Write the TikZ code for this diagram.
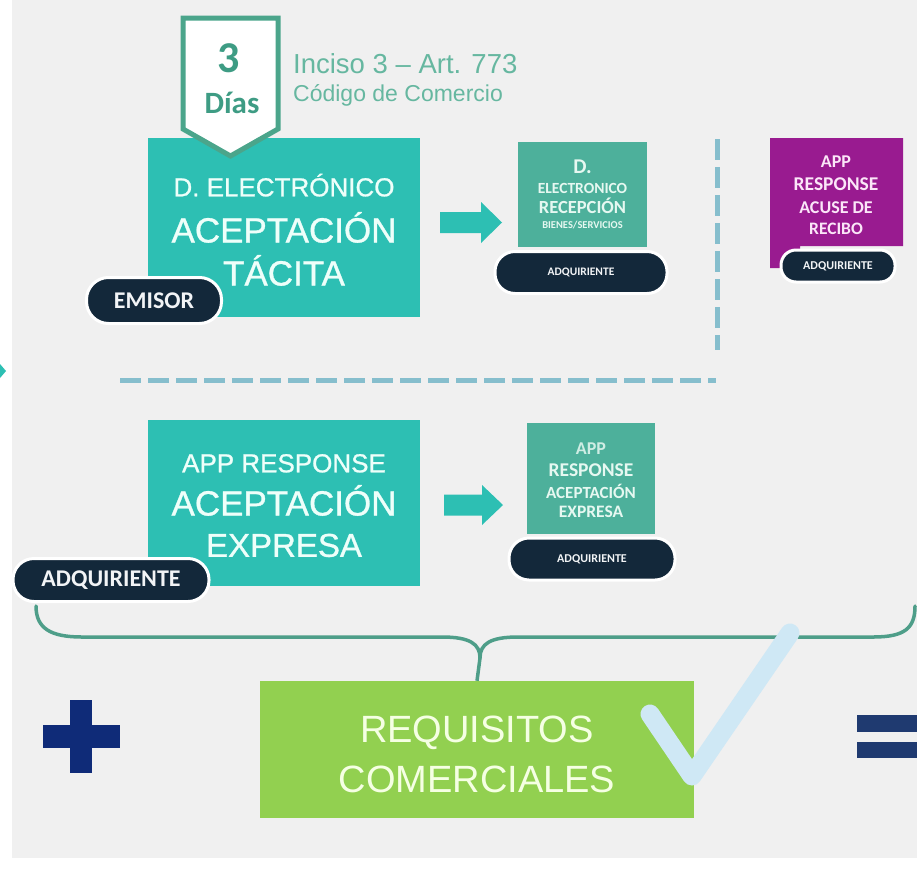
\documentclass[tikz,border=0pt]{standalone}
\usepackage{fontspec}
\setmainfont{Liberation Sans}
\newfontfamily\calfont{Carlito}
\newfontfamily\boxfont[FakeBold=0.9]{Liberation Sans}
\newcommand\fsz[1]{\fontsize{#1}{#1}\selectfont}
\definecolor{cBg}{HTML}{F0F0F0}
\definecolor{cTeal}{HTML}{2DBFB3}
\definecolor{cSmall}{HTML}{4DB09B}
\definecolor{cNavy}{HTML}{13283A}
\definecolor{cPurple}{HTML}{991B90}
\definecolor{cGreen}{HTML}{92D050}
\definecolor{cBadge}{HTML}{4BA58B}
\definecolor{cBadgeTxt}{HTML}{3E9C84}
\definecolor{cInciso}{HTML}{66B7A0}
\definecolor{cBoxTxt}{HTML}{EEFFFA}
\definecolor{cSmTxt}{HTML}{E6F8F1}
\definecolor{cPurTxt}{HTML}{FBE6F8}
\definecolor{cPillTxt}{HTML}{F2F4F6}
\definecolor{cGreenTxt}{HTML}{F5FFE3}
\definecolor{cBrace}{HTML}{4E9E89}
\definecolor{cDash}{HTML}{86BECD}
\definecolor{cCheck}{HTML}{CFE8F5}
\definecolor{cPlus}{HTML}{0F2B78}
\definecolor{cEq}{HTML}{1F3A70}
\begin{document}
\begin{tikzpicture}[x=1pt,y=-1pt,
  bigbox/.style={fill=cTeal,inner sep=0,outer sep=0},
  smallbox/.style={fill=cSmall,inner sep=0,outer sep=0},
  pill/.style={fill=cNavy,draw=white,line width=3pt,inner sep=0,text=cPillTxt},
  bigtxt/.style={anchor=base,inner sep=0,text=cBoxTxt,font=\boxfont\fsz{#1}},
  smtxt/.style={anchor=base,inner sep=0,text=cSmTxt,font=\calfont\bfseries\fsz{#1}},
  purtxt/.style={anchor=base,inner sep=0,text=cPurTxt,font=\calfont\bfseries\fsz{#1}},
  greentxt/.style={anchor=base,inner sep=0,text=cGreenTxt,font=\fsz{#1}},
  dashline/.style={draw=cDash,line width=5pt,dash pattern=on 21pt off 7pt},
  blockarrow/.style={fill=cTeal},
  bracestyle/.style={draw=cBrace,line width=3.5pt,line cap=round,line join=round},
  checkstyle/.style={draw=cCheck,line width=19pt,line cap=round,line join=round}]
\useasboundingbox (0,0) rectangle (917,870);
\fill[white] (0,0) rectangle (917,870);
\fill[cBg] (12,0) rectangle (917,858);
% left edge mark
\fill[cTeal] (0,364) -- (6,371) -- (0,378) -- cycle;

% top section box 1
\node[bigbox,minimum width=272pt,minimum height=179pt] (b1) at (284,227.5) {};
\node[bigtxt=26] (b1a) at (284,196.3) {D. ELECTRÓNICO};
\node[bigtxt=35] (b1b) at (284,242.5) {ACEPTACIÓN};
\node[bigtxt=35] (b1c) at (284,285.5) {TÁCITA};

% badge
\filldraw[fill=white,draw=cBadge,line width=5pt,line join=miter]
  (183,18) -- (278,18) -- (278,129) -- (230.5,156) -- (183,129) -- cycle;
\node[anchor=base,inner sep=0,text=cBadgeTxt,font=\calfont\bfseries\fsz{44}] (n3) at (229,72) {3};
\node[anchor=base,inner sep=0,text=cBadgeTxt,font=\calfont\bfseries\fsz{31}] (dias) at (232,113) {Días};
\node[anchor=base west,inner sep=0,text=cInciso,font=\fsz{27.5}] (inc) at (293,73) {Inciso 3 – Art. 773};
\node[anchor=base west,inner sep=0,text=cInciso,font=\fsz{23}] (cod) at (293,101) {Código de Comercio};

% EMISOR pill
\node[pill,minimum width=135pt,minimum height=46pt,rounded corners=22pt,font=\calfont\bfseries\fsz{24}] (emisor) at (154,300.5) {EMISOR};

% arrow 1
\fill[blockarrow] (440,212) -- (481,212) -- (481,202) -- (502,222.5) -- (481,243) -- (481,233) -- (440,233) -- cycle;

% box 2
\node[smallbox,minimum width=129pt,minimum height=105pt] (b2) at (582.5,194.5) {};
\node[smtxt=21] (b2a) at (582.5,173.5) {D.};
\node[smtxt=15.5] (b2b) at (582.5,193.5) {ELECTRONICO};
\node[smtxt=18.5] (b2c) at (582.5,213) {RECEPCIÓN};
\node[smtxt=10.5] (b2d) at (582.5,228) {BIENES/SERVICIOS};
\node[pill,minimum width=172pt,minimum height=42pt,rounded corners=20pt,font=\calfont\bfseries\fsz{11.5}] (p2) at (581,272.5) {ADQUIRIENTE};

% purple box
\fill[cPurple] (770,138) -- (903,138) -- (903,246) -- (800,246) -- (800,268) -- (770,268) -- cycle;
\coordinate (pur) at (836,200);
\node[purtxt=18] (pa) at (836,167) {APP};
\node[purtxt=19.5] (pb) at (836,190) {RESPONSE};
\node[purtxt=18] (pc) at (836,213) {ACUSE DE};
\node[purtxt=17.5] (pd) at (836,234.5) {RECIBO};
\node[pill,minimum width=114pt,minimum height=32pt,rounded corners=15pt,font=\calfont\bfseries\fsz{12}] (p3) at (838,266) {ADQUIRIENTE};

% dashed dividers
\coordinate (v1) at (717,139);
\coordinate (v2) at (717,350);
\coordinate (h1) at (120,380);
\coordinate (h2) at (716,380);
\draw[dashline] (v1) -- (v2);
\draw[dashline] (h1) -- (h2);

% box 4
\node[bigbox,minimum width=272pt,minimum height=166pt] (b4) at (284,503) {};
\node[bigtxt=26] (b4a) at (284,472.3) {APP RESPONSE};
\node[bigtxt=35] (b4b) at (284,515.5) {ACEPTACIÓN};
\node[bigtxt=33] (b4c) at (284,556.8) {EXPRESA};
\node[pill,minimum width=196pt,minimum height=43pt,rounded corners=21pt,font=\calfont\bfseries\fsz{24}] (p5) at (111,580) {ADQUIRIENTE};

% arrow 2
\fill[blockarrow] (444,494.5) -- (482,494.5) -- (482,485) -- (503,505) -- (482,525) -- (482,515.5) -- (444,515.5) -- cycle;

% box 5
\node[smallbox,minimum width=128pt,minimum height=111pt] (b5) at (591,478.5) {};
\node[smtxt=18,text=cSmTxt!85!cSmall] (b5a) at (591,454) {APP};
\node[smtxt=19.5] (b5b) at (591,476.5) {RESPONSE};
\node[smtxt=17] (b5c) at (591,498) {ACEPTACIÓN};
\node[smtxt=17.5] (b5d) at (591,517) {EXPRESA};
\node[pill,minimum width=166pt,minimum height=42pt,rounded corners=20pt,font=\calfont\bfseries\fsz{12}] (p4) at (592,559) {ADQUIRIENTE};

% green box
\node[fill=cGreen,inner sep=0,minimum width=434pt,minimum height=137pt] (req) at (477,749.5) {};
\node[greentxt=38] (reqa) at (477,742) {REQUISITOS};
\node[greentxt=38] (reqb) at (477,792) {COMERCIALES};

% brace
\coordinate (bl) at (36,606);
\coordinate (br) at (915,606);
\coordinate (btip) at (480,658);
\draw[bracestyle] (bl) .. controls (36,628) and (50,637) .. (82,637) -- (442,637)
   .. controls (470,637) and (480,644) .. (btip)
   .. controls (480,644) and (490,637) .. (518,637) -- (873,637)
   .. controls (905,637) and (915,628) .. (br);
\draw[bracestyle,line cap=butt] (btip) -- (req.north);

% check mark
\coordinate (ck1) at (650,714);
\coordinate (ck2) at (692,776);
\coordinate (ck3) at (790,633);
\draw[checkstyle] (ck1) -- (ck2) -- (ck3);

% plus
\fill[cPlus] (70,700) rectangle (92,773);
\fill[cPlus] (43,725) rectangle (120,748);
% equals
\fill[cEq] (857,715) rectangle (917,732);
\fill[cEq] (857,742) rectangle (917,758);
\end{tikzpicture}
\end{document}
